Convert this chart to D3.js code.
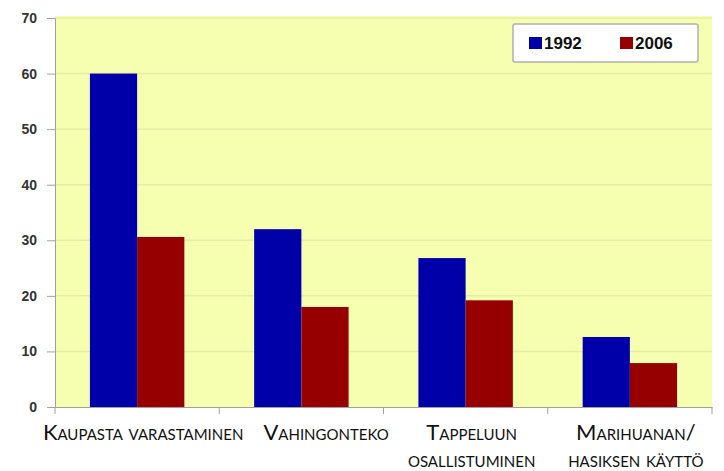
<!DOCTYPE html>
<html>
<head>
<meta charset="utf-8">
<script src="https://cdn.jsdelivr.net/npm/d3@7"></script>
<style>
  body { margin: 0; background: #fff; }
  svg { display: block; }
</style>
</head>
<body>
<div id="chart"></div>
<script>
const categories = ['Kaupasta varastaminen', 'Vahingonteko', 'Tappeluun osallistuminen', 'Marihuanan/ hasiksen käyttö'];
const labelLines = [['Kaupasta varastaminen'], ['Vahingonteko'], ['Tappeluun', 'osallistuminen'], ['Marihuanan/', 'hasiksen käyttö']];
const seriesNames = ['1992', '2006'];
const values1992 = [60, 32, 26.8, 12.6];
const values2006 = [30.6, 18, 19.2, 7.9];
const yTicks = [0, 10, 20, 30, 40, 50, 60, 70];

const colors = { '1992': '#0000a8', '2006': '#960000' };
const width = 724, height = 471;
const margin = { top: 18, right: 12, bottom: 64, left: 55 };
const innerW = width - margin.left - margin.right;
const innerH = height - margin.top - margin.bottom;

const data = categories.map((c, i) => ({ category: c, lines: labelLines[i], '1992': values1992[i], '2006': values2006[i] }));

const svg = d3.select('#chart').append('svg').attr('width', width).attr('height', height);
const g = svg.append('g').attr('transform', `translate(${margin.left},${margin.top})`);

const x0 = d3.scaleBand().domain(categories).range([0, innerW]).paddingInner(0.425).paddingOuter(0.2125);
const x1 = d3.scaleBand().domain(seriesNames).range([0, x0.bandwidth()]);
const y = d3.scaleLinear().domain([0, 70]).range([innerH, 0]);

// plot background
g.append('rect').attr('y', -2).attr('width', innerW).attr('height', innerH + 2).attr('fill', '#f6ffb0');

// gridlines
g.append('g').selectAll('line').data(yTicks.slice(1)).join('line')
  .attr('x1', 0).attr('x2', innerW)
  .attr('y1', d => y(d)).attr('y2', d => y(d))
  .attr('stroke', '#e6eca4').attr('stroke-width', 1.5);

// bars
g.append('g').selectAll('g').data(data).join('g')
  .attr('transform', d => `translate(${x0(d.category)},0)`)
  .selectAll('rect')
  .data(d => seriesNames.map(s => ({ s, v: d[s] })))
  .join('rect')
  .attr('x', d => x1(d.s))
  .attr('y', d => y(d.v))
  .attr('width', x1.bandwidth())
  .attr('height', d => innerH - y(d.v))
  .attr('fill', d => colors[d.s]);

// y axis
const yAxis = g.append('g').call(d3.axisLeft(y).tickValues(yTicks).tickSize(8).tickPadding(10));
yAxis.select('.domain').attr('stroke', '#a0a0a0');
yAxis.selectAll('.tick line').attr('stroke', '#a0a0a0');
yAxis.selectAll('text')
  .attr('font-family', 'Liberation Sans, Arial, sans-serif')
  .attr('font-weight', 'bold').attr('font-size', 14).attr('fill', '#333');

// x axis
const xAxis = g.append('g').attr('transform', `translate(0,${innerH})`)
  .call(d3.axisBottom(x0).tickValues([]).tickSizeOuter(0));
xAxis.select('.domain').attr('stroke', '#a0a0a0');
const step = x0.step();
xAxis.selectAll('.sep').data(d3.range(categories.length + 1)).join('line')
  .attr('class', 'sep')
  .attr('x1', i => i * step).attr('x2', i => i * step)
  .attr('y1', 0).attr('y2', 7)
  .attr('stroke', '#a0a0a0');

// category labels, centred under each group, pushed right if they would touch the previous one
const labels = xAxis.selectAll('.lbl').data(data).join('text')
  .attr('class', 'lbl')
  .attr('y', 33)
  .attr('text-anchor', 'middle')
  .attr('font-family', 'Lato, sans-serif')
  .attr('font-size', 22)
  .attr('font-variant', 'small-caps')
  .attr('fill', '#111');
labels.selectAll('tspan').data(d => d.lines).join('tspan')
  .attr('dy', (d, i) => i === 0 ? 0 : 27)
  .text(d => d);

let prevEnd = -Infinity;
labels.each(function (d) {
  const firstW = this.querySelector('tspan').getComputedTextLength();
  let cx = x0(d.category) + x0.bandwidth() / 2 + 6;
  if (cx - firstW / 2 < prevEnd + 20) cx = prevEnd + 20 + firstW / 2;
  prevEnd = cx + firstW / 2;
  d3.select(this).selectAll('tspan').attr('x', cx);
});

// legend
const legend = g.append('g').attr('transform', `translate(${innerW - 199},6)`);
legend.append('rect').attr('width', 185).attr('height', 38).attr('rx', 2)
  .attr('fill', '#fff').attr('stroke', '#b0b0b0').attr('stroke-width', 1.5);
seriesNames.forEach((s, i) => {
  const item = legend.append('g').attr('transform', `translate(${16 + i * 91},19)`);
  item.append('rect').attr('x', 0).attr('y', -6).attr('width', 13).attr('height', 12).attr('fill', colors[s]);
  item.append('text').attr('x', 15).attr('dy', '0.36em')
    .attr('font-family', 'Liberation Sans, Arial, sans-serif')
    .attr('font-weight', 'bold').attr('font-size', 17).attr('fill', '#111')
    .text(s);
});
</script>
</body>
</html>
